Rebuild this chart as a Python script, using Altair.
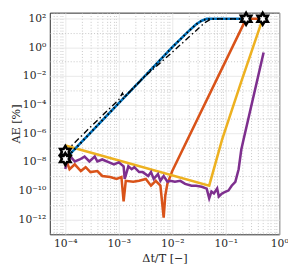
import altair as alt
import pandas as pd

# ---------------- data ----------------
# Orange series
orange_dt = [1.0e-4, 1.2e-4, 1.5e-4, 1.95e-4, 2.4e-4, 2.95e-4, 3.98e-4, 4.9e-4, 6.9e-4,
             9.1e-4, 1.12e-3, 1.23e-3, 1.35e-3, 1.86e-3, 2.4e-3, 3.2e-3, 4.0e-3, 4.9e-3,
             6.0e-3, 6.9e-3, 7.4e-3, 8.1e-3, 1.0e-2, 0.24, 0.49]
orange_ae = [2.0e-8, 3.1e-9, 6.8e-9, 2.3e-9, 4.3e-9, 1.95e-9, 2.3e-9, 1.05e-9, 8.9e-10,
             6.5e-10, 8.9e-10, 1.8e-11, 4.8e-10, 4.1e-10, 4.8e-10, 6.5e-10, 2.2e-10, 4.8e-10,
             2.2e-10, 1.3e-12, 4.6e-11, 2.95e-10, 2.3e-9, 95, 95]

# Yellow series
yellow_dt = [1.0e-4, 4.9e-2, 8.5e-2, 0.195, 0.49]
yellow_ae = [1.4e-7, 2.2e-10, 3.4e-7, 4.0e-3, 95]

# Purple series
purple_dt = [1.0e-4, 1.05e-4, 1.29e-4, 1.51e-4, 1.86e-4, 2.29e-4, 2.82e-4, 3.55e-4, 3.98e-4,
             4.9e-4, 6.6e-4, 8.1e-4, 1.0e-3, 1.23e-3, 1.29e-3, 1.51e-3, 1.74e-3, 1.95e-3,
             2.4e-3, 2.8e-3, 3.55e-3, 4.0e-3, 4.5e-3, 5.4e-3, 6.0e-3, 6.9e-3, 8.1e-3,
             9.1e-3, 1.12e-2, 1.41e-2, 1.74e-2, 2.29e-2, 2.8e-2, 3.55e-2, 4.4e-2, 4.9e-2,
             5.4e-2, 6.0e-2, 6.9e-2, 7.4e-2, 8.5e-2, 0.1, 0.112, 0.129, 0.151, 0.174,
             0.195, 0.214, 0.51]
purple_ae = [3.2e-9, 9.0e-9, 2.04e-8, 1.07e-8, 1.48e-8, 2.34e-8, 1.07e-8, 2.34e-8, 1.07e-8,
             1.48e-8, 9.3e-9, 6.8e-9, 9.3e-9, 4.9e-9, 6.5e-10, 4.9e-9, 3.1e-9, 4.3e-9,
             1.95e-9, 1.95e-9, 1.05e-9, 1.95e-9, 6.5e-10, 1.4e-9, 4.8e-10, 1.05e-9, 4.1e-10,
             4.8e-10, 4.1e-10, 4.8e-10, 2.95e-10, 2.2e-10, 2.2e-10, 1.86e-10, 1.38e-10, 2.9e-11,
             8.5e-11, 6.3e-11, 1.38e-10, 3.9e-11, 6.3e-11, 8.5e-11, 1.0e-10, 2.2e-10, 4.1e-10, 3.1e-9,
             7.1e-8, 3.4e-7, 0.43]

# Blue series (with black dotted overlay)
blue_dt = [1.0e-4, 3.16e-4, 1.0e-3, 3.16e-3, 1.0e-2, 2.0e-2, 2.8e-2, 3.55e-2, 4.4e-2, 0.24]
blue_ae = [1.6e-8, 1.4e-6, 1.26e-4, 1.1e-2, 1.0, 12.6, 40, 70, 95, 95]

# Black dash-dot series
dashdot_dt = [1.0e-4, 3.16e-4, 1.0e-3, 1.17e-3, 1.26e-3, 3.16e-3, 1.0e-2, 2.5e-2, 4.0e-2, 5.4e-2, 0.24]
dashdot_ae = [5.0e-8, 3.5e-6, 2.2e-4, 6.3e-4, 3.2e-4, 1.0e-2, 0.45, 10, 50, 95, 95]

# Star markers
star_dt = [1.0e-4, 1.0e-4, 0.24, 0.49]
star_ae = [5.0e-8, 1.6e-8, 95, 95]

# Axis ticks
x_label_exps = [-4, -3, -2, -1, 0]
y_label_exps = [2, 0, -2, -4, -6, -8, -10, -12]
sup = {"-": "⁻", "0": "⁰", "1": "¹", "2": "²", "3": "³", "4": "⁴",
       "5": "⁵", "6": "⁶", "7": "⁷", "8": "⁸", "9": "⁹"}

def tex(e):
    return "10" + "".join(sup[c] for c in str(e))

X_MIN, X_MAX = 10 ** -4.29, 1.0
Y_MIN, Y_MAX = 10 ** -13.05, 10 ** 2.41

x_grid = [m * 10.0 ** k for k in range(-5, 1) for m in range(1, 10)
          if X_MIN <= m * 10.0 ** k <= X_MAX * 1.0001]
y_grid = [10.0 ** k for k in range(-13, 3)]

L = "(log(datum.value)/LN10)"
RL = f"round({L})"
isdec = f"abs({L} - {RL}) < 0.001"

def label_expr(exps, cond):
    e = "''"
    for k in exps:
        e = f"({RL} == {k} ? '{tex(k)}' : {e})"
    return f"({cond}) ? {e} : ''"

x_major = isdec
y_major = f"({RL} % 2 == 0)"

FONT = "DejaVu Serif"

x_axis = alt.Axis(
    values=x_grid, labelExpr=label_expr(x_label_exps, isdec), title="Δt/T [−]",
    ticks=False, domain=False, labelPadding=4, labelFont=FONT, labelFontSize=11,
    labelColor="#262626", titleFont=FONT, titleFontSize=11.5, titleFontWeight="normal",
    titleColor="#262626", titlePadding=4, labelFlush=False, labelOverlap=False,
    gridColor={"condition": {"test": x_major, "value": "#e3e3e3"}, "value": "#b8b8b8"},
    gridDash={"condition": {"test": x_major, "value": []}, "value": [1, 2]},
    gridWidth=0.8,
)
y_axis = alt.Axis(
    values=y_grid, labelExpr=label_expr(y_label_exps, y_major), title="AE [%]",
    ticks=False, domain=False, labelPadding=4, labelFont=FONT, labelFontSize=11,
    labelColor="#262626", titleFont=FONT, titleFontSize=11.5, titleFontWeight="normal",
    titleColor="#262626", titleX=-29, labelOverlap=False, labelFlush=False,
    gridColor={"condition": {"test": y_major, "value": "#e3e3e3"}, "value": "#b8b8b8"},
    gridDash={"condition": {"test": y_major, "value": []}, "value": [1, 2]},
    gridWidth=0.8,
)

xs = alt.Scale(type="log", domain=[X_MIN, X_MAX], nice=False)
ys = alt.Scale(type="log", domain=[Y_MIN, Y_MAX], nice=False)

def enc(ch):
    return ch.encode(
        x=alt.X("dt:Q", scale=xs, axis=x_axis),
        y=alt.Y("ae:Q", scale=ys, axis=y_axis),
    )

def df(a, b):
    return pd.DataFrame({"dt": a, "ae": b})

orange = enc(alt.Chart(df(orange_dt, orange_ae)).mark_line(color="#D95319", strokeWidth=2.6))
yellow = enc(alt.Chart(df(yellow_dt, yellow_ae)).mark_line(color="#EDB120", strokeWidth=2.6))
purple = enc(alt.Chart(df(purple_dt, purple_ae)).mark_line(color="#7E2F8E", strokeWidth=2.6))
blue = enc(alt.Chart(df(blue_dt, blue_ae)).mark_line(color="#0072BD", strokeWidth=2.6))
dotted = enc(alt.Chart(df(blue_dt, blue_ae)).mark_line(color="black", strokeWidth=2,
                                                       strokeDash=[1.5, 3]))
dashdot = enc(alt.Chart(df(dashdot_dt, dashdot_ae)).mark_line(color="black", strokeWidth=1.4,
                                                              strokeDash=[6, 3, 1.5, 3]))
hexagram = ("M0,-1L0.289,-0.5L0.866,-0.5L0.577,0L0.866,0.5L0.289,0.5L0,1L-0.289,0.5"
            "L-0.866,0.5L-0.577,0L-0.866,-0.5L-0.289,-0.5Z")
stars = enc(alt.Chart(df(star_dt, star_ae)).mark_point(
    shape=hexagram, size=150, filled=True, fill="white", stroke="black",
    strokeWidth=2.6, opacity=1))

chart = alt.layer(orange, yellow, purple, blue, dotted, dashdot, stars).properties(
    width=236, height=228,
    autosize=alt.AutoSizeParams(type="none"),
    padding={"left": 43, "top": 1, "right": 9, "bottom": 36},
).configure_view(stroke="#262626", strokeWidth=1)

chart.save("out.html", embed_options={"renderer": "svg", "actions": False})
